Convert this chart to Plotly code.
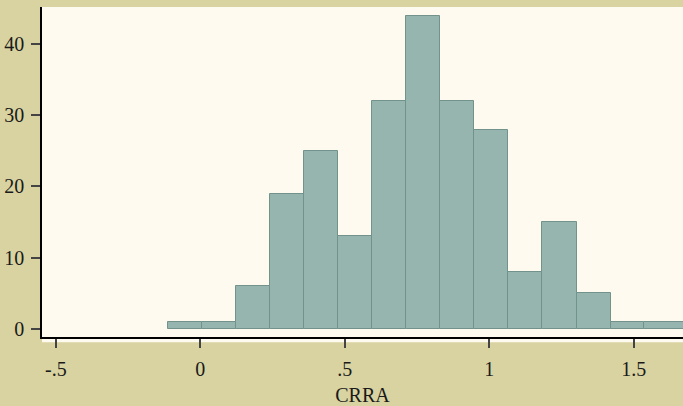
import plotly.graph_objects as go

# Histogram of CRRA
bin_edges = [-0.112, 0.006, 0.124, 0.242, 0.360, 0.477, 0.595, 0.713,
             0.831, 0.948, 1.066, 1.184, 1.302, 1.420, 1.537, 1.675]
counts = [1, 1, 6, 19, 25, 13, 32, 44, 32, 28, 8, 15, 5, 1, 1]

x_tickvals = [-0.5, 0, 0.5, 1, 1.5]
x_ticktext = ["-.5", "0", ".5", "1", "1.5"]
y_tickvals = [0, 10, 20, 30, 40]
y_ticktext = ["0", "10", "20", "30", "40"]
x_title = "CRRA"

centers = [(a + b) / 2 for a, b in zip(bin_edges[:-1], bin_edges[1:])]
widths = [b - a for a, b in zip(bin_edges[:-1], bin_edges[1:])]

PAPER = "#D8D3A0"
PLOT = "#FFFAEF"
FILL = "#96B5AE"
EDGE = "#71938B"
FONT = "Liberation Serif"

fig = go.Figure(
    go.Bar(
        x=centers,
        y=counts,
        width=widths,
        marker=dict(color=FILL, line=dict(color=EDGE, width=1)),
        hoverinfo="x+y",
    )
)

fig.update_layout(
    width=683,
    height=406,
    margin=dict(l=42, r=0, t=7, b=69),
    paper_bgcolor=PAPER,
    plot_bgcolor=PLOT,
    showlegend=False,
    bargap=0,
    font=dict(family=FONT, size=20, color="#1a1a1a"),
    shapes=[
        dict(type="rect", xref="paper", yref="paper", x0=0, x1=1,
             y0=-0.016, y1=0, fillcolor=PLOT, line=dict(width=0), layer="below"),
    ],
)

fig.update_xaxes(
    range=[-0.548, 1.6706],
    tickvals=x_tickvals,
    ticktext=x_ticktext,
    showgrid=False,
    zeroline=False,
    showline=True,
    linecolor="#000000",
    linewidth=1.5,
    ticks="outside",
    ticklen=9,
    tickwidth=1.5,
    tickcolor="#444444",
    ticklabelstandoff=4,
    tickfont=dict(family=FONT, size=20, color="#1a1a1a"),
    title=dict(text=x_title, font=dict(family=FONT, size=20, color="#1a1a1a"), standoff=10),
    automargin=False,
)

fig.update_yaxes(
    range=[-1.18, 45.25],
    tickvals=y_tickvals,
    ticktext=y_ticktext,
    showgrid=False,
    zeroline=False,
    showline=True,
    linecolor="#000000",
    linewidth=1.5,
    ticks="outside",
    ticklen=9,
    tickwidth=1.5,
    tickcolor="#444444",
    ticklabelstandoff=3,
    tickfont=dict(family=FONT, size=20, color="#1a1a1a"),
    automargin=False,
)

fig.write_html(
    "out.html",
    config={"displayModeBar": False},
    post_script="document.body.style.margin='0';document.body.style.overflow='hidden';",
)
